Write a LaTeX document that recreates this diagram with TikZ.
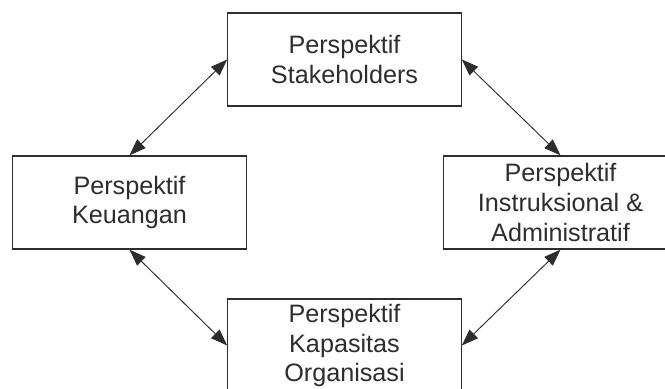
\documentclass[tikz,border=0pt]{standalone}
\usepackage{fontspec}
\setmainfont{Liberation Sans}
\usepackage{xcolor}
\usetikzlibrary{arrows.meta}
\definecolor{InkGray}{RGB}{45,45,45}

\begin{document}
\begin{tikzpicture}[
		persp/.style={draw=InkGray, line width=1.1pt, minimum width=7cm, minimum height=2.79cm,
			inner sep=0pt, align=center, text=InkGray, font=\fontsize{21.5}{25.5}\selectfont},
		link/.style={InkGray, line width=0.8pt,
			{Triangle[length=0.5cm,width=0.36cm]}-{Triangle[length=0.5cm,width=0.36cm]}}
	]
			\useasboundingbox (0,0) rectangle (19.95,11.67);
			\coordinate (S) at (10.335,9.885);
			\coordinate (K) at (3.885,5.595);
			\coordinate (I) at (16.815,5.595);
			\coordinate (O) at (10.335,1.305);
			\node[persp] (stake) at (S) {Perspektif\\Stakeholders};
			\node[persp] (keu) at (K) {Perspektif\\Keuangan};
			\node[persp] (instr) at (I) {Perspektif\\Instruksional \&\\Administratif};
			\node[persp] (kap) at (O) {Perspektif\\Kapasitas\\Organisasi};
			\draw[link] (stake.west) -- (keu.north);
			\draw[link] (stake.east) -- (instr.north);
			\draw[link] (keu.south) -- (kap.west);
			\draw[link] (instr.south) -- (kap.east);
		\end{tikzpicture}
\end{document}
